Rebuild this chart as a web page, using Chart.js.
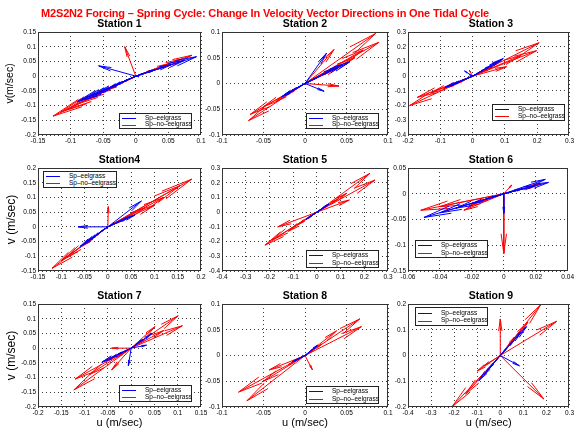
<!DOCTYPE html>
<html><head><meta charset="utf-8">
<script src="https://cdn.jsdelivr.net/npm/chart.js@4.4.1/dist/chart.umd.min.js"></script>
<style>
body{margin:0;background:#fff;}
#wrap{position:relative;width:576px;height:434px;overflow:hidden;background:#fff;font-family:"Liberation Sans",Arial,Helvetica,sans-serif;}
#wrap canvas{position:absolute;left:0;top:0;}
.txt{position:absolute;white-space:nowrap;line-height:1;z-index:5;}
.leg{position:absolute;box-sizing:border-box;border:1px solid #222;background:#fff;z-index:6;}
.leg .sw{position:absolute;height:0;border-top:1px solid;}
.leg .lt{position:absolute;font-size:6.5px;line-height:1;white-space:nowrap;color:#000;}
</style>
</head><body>
<div id="wrap"></div>
<script>
// ---------------- DATA ----------------
const stationNames = ["Station 1","Station 2","Station 3","Station4","Station 5","Station 6","Station 7","Station 8","Station 9"];
const seriesNames = ["Sp\u2013eelgrass","Sp\u2013no\u2013eelgrass"];
const mainTitle = "M2S2N2 Forcing \u2013 Spring Cycle: Change In Velocity Vector Directions in One Tidal Cycle";

// axis ranges [min, max, step]
const st1X = [-0.15, 0.1, 0.05],  st1Y = [-0.2, 0.15, 0.05];
const st2X = [-0.1, 0.1, 0.05],   st2Y = [-0.1, 0.1, 0.05];
const st3X = [-0.2, 0.3, 0.1],    st3Y = [-0.4, 0.3, 0.1];
const st4X = [-0.15, 0.2, 0.05],  st4Y = [-0.15, 0.2, 0.05];
const st5X = [-0.4, 0.3, 0.1],    st5Y = [-0.4, 0.3, 0.1];
const st6X = [-0.06, 0.04, 0.02], st6Y = [-0.15, 0.05, 0.05];
const st7X = [-0.2, 0.15, 0.05],  st7Y = [-0.2, 0.15, 0.05];
const st8X = [-0.1, 0.1, 0.05],   st8Y = [-0.1, 0.1, 0.05];
const st9X = [-0.4, 0.3, 0.1],    st9Y = [-0.2, 0.2, 0.1];

// Station 1
const st1BlueU = [0.093, 0.075, 0.055, 0.030, 0.012, -0.057, -0.020, -0.045, -0.070, -0.090, -0.082, -0.060, -0.035, 0.005];
const st1BlueV = [0.066, 0.054, 0.040, 0.022, 0.008, 0.035, -0.020, -0.045, -0.068, -0.087, -0.080, -0.058, -0.034, -0.002];
const st1RedU  = [0.086, 0.070, 0.050, 0.025, -0.017, -0.030, -0.060, -0.090, -0.115, -0.127, -0.105, -0.075, -0.045, 0.010];
const st1RedV  = [0.071, 0.058, 0.042, 0.020, 0.100, -0.030, -0.062, -0.095, -0.122, -0.136, -0.113, -0.080, -0.048, 0.008];
// Station 2
const st2BlueU = [0.054, 0.045, 0.035, 0.026, 0.015, 0.023, -0.010, -0.020, -0.028, -0.025, -0.015, 0.005];
const st2BlueV = [0.042, 0.036, 0.030, 0.059, 0.012, -0.015, -0.009, -0.018, -0.026, -0.022, -0.013, 0.004];
const st2RedU  = [0.085, 0.089, 0.070, 0.035, 0.041, 0.060, 0.040, -0.068, -0.066, -0.050, -0.035, -0.020, 0.010];
const st2RedV  = [0.097, 0.080, 0.065, 0.066, -0.005, 0.050, 0.030, -0.072, -0.060, -0.045, -0.035, -0.020, 0.008];
// Station 3
const st3BlueU = [0.095, 0.080, 0.060, 0.040, -0.025, -0.010, -0.030, -0.060, -0.085, -0.070, -0.040, 0.010];
const st3BlueV = [0.120, 0.100, 0.075, 0.050, 0.035, 0.010, -0.028, -0.055, -0.076, -0.065, -0.038, 0.012];
const st3RedU  = [0.206, 0.198, 0.105, 0.150, 0.090, 0.060, -0.010, -0.195, -0.171, -0.130, -0.090, -0.050, 0.020];
const st3RedV  = [0.227, 0.173, 0.064, 0.140, 0.110, 0.060, 0.040, -0.200, -0.144, -0.115, -0.085, -0.050, 0.020];
// Station 4
const st4BlueU = [0.072, 0.058, 0.045, 0.030, 0.015, -0.064, -0.015, -0.030, -0.048, -0.060, -0.040, 0.005];
const st4BlueV = [0.088, 0.040, 0.032, 0.022, 0.012, 0.000, -0.016, -0.033, -0.053, -0.067, -0.045, 0.004];
const st4RedU  = [0.180, 0.155, 0.101, 0.120, 0.080, 0.040, 0.001, -0.030, -0.060, -0.090, -0.120, -0.100, -0.050];
const st4RedV  = [0.162, 0.140, 0.074, 0.100, 0.065, 0.030, 0.069, -0.035, -0.070, -0.105, -0.141, -0.115, -0.058];
// Station 5
const st5BlueU = [0.050, 0.040, 0.030, 0.015, -0.015, -0.030, -0.045, -0.035, 0.005];
const st5BlueV = [0.055, 0.045, 0.032, 0.016, -0.016, -0.032, -0.048, -0.038, 0.005];
const st5RedU  = [0.224, 0.245, 0.137, 0.126, 0.090, 0.050, -0.219, -0.190, -0.165, -0.120, -0.080, -0.040, 0.020];
const st5RedV  = [0.264, 0.218, 0.082, 0.128, 0.090, 0.050, -0.224, -0.190, -0.100, -0.130, -0.085, -0.045, 0.020];
// Station 6
const st6BlueU = [0.026, 0.028, 0.020, 0.012, 0.000, -0.050, -0.040, -0.030, -0.020, -0.010, 0.005];
const st6BlueV = [0.028, 0.022, 0.016, 0.010, -0.038, -0.046, -0.037, -0.028, -0.019, -0.009, 0.004];
const st6RedU  = [0.023, 0.018, 0.010, 0.005, 0.000, -0.052, -0.040, -0.025, -0.022, -0.015, -0.008];
const st6RedV  = [0.019, 0.015, 0.009, 0.017, -0.116, -0.032, -0.025, -0.032, -0.024, -0.016, -0.008];
// Station 7
const st7BlueU = [0.045, 0.033, 0.025, 0.015, -0.006, -0.063, -0.045, -0.030, -0.015, 0.005];
const st7BlueV = [0.050, 0.010, 0.030, 0.018, -0.060, -0.048, -0.035, -0.022, -0.012, 0.004];
const st7RedU  = [0.101, 0.110, 0.051, 0.070, 0.030, -0.042, -0.042, -0.120, -0.123, -0.090, -0.060, -0.030, 0.010];
const st7RedV  = [0.110, 0.076, 0.073, 0.060, 0.030, 0.000, -0.074, -0.105, -0.142, -0.090, -0.045, -0.030, 0.010];
// Station 8
const st8BlueU = [0.015, 0.010, 0.005, -0.005, -0.010, -0.015];
const st8BlueV = [0.020, 0.013, 0.006, -0.004, -0.008, -0.012];
const st8RedU  = [0.066, 0.068, 0.038, 0.020, 0.009, -0.043, -0.080, -0.070, -0.050, -0.020, 0.010];
const st8RedV  = [0.071, 0.056, 0.048, 0.022, -0.028, -0.028, -0.071, -0.088, -0.050, -0.018, 0.010];
// Station 9
const st9BlueU = [0.114, 0.090, 0.060, 0.030, 0.083, -0.093, -0.070, -0.045, -0.020, 0.005];
const st9BlueV = [0.112, 0.090, 0.060, 0.030, -0.040, -0.098, -0.075, -0.048, -0.020, 0.004];
const st9RedU  = [0.175, 0.245, 0.000, 0.189, 0.120, 0.060, -0.209, -0.100, -0.071, -0.150, -0.050, 0.020];
const st9RedV  = [0.197, 0.133, 0.142, -0.169, 0.130, 0.070, -0.199, -0.060, -0.040, -0.150, -0.050, 0.020];

// ---------------- LAYOUT (positions only) ----------------
const W = 576, H = 434;
const cols = [[38, 201], [222, 388], [408, 574]];
const rows = [[32, 135], [168, 271], [304, 407]];
// legend boxes [left, top, width, height]
const legendBoxes = [
  [119, 113, 73, 16], [306, 113, 73, 16], [492, 104, 73, 17],
  [43, 171, 74, 17],  [306, 250, 73, 18], [415, 240, 73, 18],
  [119, 385, 73, 17], [306, 386, 73, 18], [415, 307, 73, 19]
];

const stations = [
  [st1X, st1Y, st1BlueU, st1BlueV, st1RedU, st1RedV],
  [st2X, st2Y, st2BlueU, st2BlueV, st2RedU, st2RedV],
  [st3X, st3Y, st3BlueU, st3BlueV, st3RedU, st3RedV],
  [st4X, st4Y, st4BlueU, st4BlueV, st4RedU, st4RedV],
  [st5X, st5Y, st5BlueU, st5BlueV, st5RedU, st5RedV],
  [st6X, st6Y, st6BlueU, st6BlueV, st6RedU, st6RedV],
  [st7X, st7Y, st7BlueU, st7BlueV, st7RedU, st7RedV],
  [st8X, st8Y, st8BlueU, st8BlueV, st8RedU, st8RedV],
  [st9X, st9Y, st9BlueU, st9BlueV, st9RedU, st9RedV]
];
const yTitles = ["v(m/sec)", null, null, "v (m/sec)", null, null, "v (m/sec)", null, null];
const yTitleSize = [10.5, 0, 0, 12, 0, 0, 12, 0, 0];
const BLUE = "rgb(0,0,255)", RED = "rgb(255,0,0)";

function shafts(us, vs) {
  const pts = [];
  us.forEach((u, i) => { pts.push({x: 0, y: 0}, {x: u, y: vs[i]}, {x: null, y: null}); });
  return pts;
}

const arrowHeads = {
  id: 'arrowHeads',
  afterDatasetDraw(chart, args) {
    const ds = chart.data.datasets[args.index];
    if (!ds.vecU) return;
    const xs = chart.scales.x, ys = chart.scales.y, ctx = chart.ctx, a = chart.chartArea;
    ctx.save();
    ctx.beginPath(); ctx.rect(a.left, a.top, a.right - a.left, a.bottom - a.top); ctx.clip();
    ctx.strokeStyle = ds.borderColor; ctx.lineWidth = 1;
    ctx.beginPath();
    const x0 = xs.getPixelForValue(0), y0 = ys.getPixelForValue(0);
    ds.vecU.forEach((u, i) => {
      const x1 = xs.getPixelForValue(u), y1 = ys.getPixelForValue(ds.vecV[i]);
      const dx = x1 - x0, dy = y1 - y0, L = Math.hypot(dx, dy);
      if (L < 1) return;
      const hl = 0.33 * L, hw = 0.045 * L, ux = dx / L, uy = dy / L;
      const bx = x1 - ux * hl, by = y1 - uy * hl;
      ctx.moveTo(bx - uy * hw, by + ux * hw);
      ctx.lineTo(x1, y1);
      ctx.lineTo(bx + uy * hw, by - ux * hw);
    });
    ctx.stroke();
    ctx.restore();
  }
};
const frame = {
  id: 'frame',
  afterDraw(chart) {
    const a = chart.chartArea, c = chart.ctx;
    c.save(); c.strokeStyle = '#333'; c.lineWidth = 1;
    c.strokeRect(Math.round(a.left) + 0.5, Math.round(a.top) + 0.5, Math.round(a.right - a.left) - 1, Math.round(a.bottom - a.top) - 1);
    c.restore();
  }
};

const wrap = document.getElementById('wrap');
const fmt = v => String(+(+v).toFixed(4));

stations.forEach((st, k) => {
  const [xr, yr, bu, bv, ru, rv] = st;
  const r = Math.floor(k / 3), c = k % 3;
  const [pl, pr] = cols[c], [pt, pb] = rows[r];
  const yW = (c === 0) ? pl : 34;
  const xH = (r === 2) ? (H - pb) : 14;
  const cv = document.createElement('canvas');
  cv.width = W; cv.height = H; cv.style.width = W + 'px'; cv.style.height = H + 'px';
  wrap.appendChild(cv);
  new Chart(cv, {
    type: 'scatter',
    data: { datasets: [
      { label: seriesNames[0], data: shafts(bu, bv), vecU: bu, vecV: bv, showLine: true, spanGaps: false,
        borderColor: BLUE, backgroundColor: BLUE, borderWidth: 1, pointRadius: 0, pointHoverRadius: 0 },
      { label: seriesNames[1], data: shafts(ru, rv), vecU: ru, vecV: rv, showLine: true, spanGaps: false,
        borderColor: RED, backgroundColor: RED, borderWidth: 1, pointRadius: 0, pointHoverRadius: 0 }
    ]},
    options: {
      responsive: false, animation: false, events: [],
      layout: { padding: { left: pl - yW, top: pt, right: W - pr, bottom: H - pb - xH } },
      plugins: { legend: { display: false }, tooltip: { enabled: false }, title: { display: false } },
      scales: {
        x: {
          type: 'linear', min: xr[0], max: xr[1],
          ticks: { stepSize: xr[2], autoSkip: false, maxRotation: 0, minRotation: 0, color: '#000', padding: 2,
                   font: { size: 6.5, family: '"Liberation Sans", Arial, sans-serif' }, callback: fmt },
          grid: { color: 'rgba(0,0,0,0.75)', lineWidth: 1, drawTicks: false, borderDash: [1, 3] },
          border: { display: false, dash: [1, 3] },
          title: { display: r === 2, text: 'u (m/sec)', color: '#000', padding: { top: 0, bottom: 4 },
                   font: { size: 11, family: '"Liberation Sans", Arial, sans-serif' } },
          afterFit(s) { s.height = xH; }
        },
        y: {
          type: 'linear', min: yr[0], max: yr[1],
          ticks: { stepSize: yr[2], autoSkip: false, color: '#000', padding: 2,
                   font: { size: 6.5, family: '"Liberation Sans", Arial, sans-serif' }, callback: fmt },
          grid: { color: 'rgba(0,0,0,0.75)', lineWidth: 1, drawTicks: false, borderDash: [1, 3] },
          border: { display: false, dash: [1, 3] },
          title: { display: !!yTitles[k], text: yTitles[k] || '', color: '#000', padding: { top: 4, bottom: 0 },
                   font: { size: yTitleSize[k] || 10, family: '"Liberation Sans", Arial, sans-serif' } },
          afterFit(s) { s.width = yW; }
        }
      }
    },
    plugins: [arrowHeads, frame]
  });

  // station title
  const t = document.createElement('div');
  t.className = 'txt';
  t.textContent = stationNames[k];
  t.style.cssText += 'font-size:10.5px;font-weight:bold;color:#000;left:' + ((pl + pr) / 2) + 'px;top:' + (pt - 8.5 - 5.2) + 'px;transform:translateX(-50%);';
  wrap.appendChild(t);

  // legend
  const [lx, ly, lw, lh] = legendBoxes[k];
  const lg = document.createElement('div');
  lg.className = 'leg';
  lg.style.left = lx + 'px'; lg.style.top = ly + 'px'; lg.style.width = lw + 'px'; lg.style.height = lh + 'px';
  [BLUE, RED].forEach((col, j) => {
    const cy = (j === 0 ? 0.3 : 0.72) * lh - 1;
    const sw = document.createElement('div');
    sw.className = 'sw'; sw.style.borderTopColor = col;
    sw.style.left = '2px'; sw.style.width = '14px'; sw.style.top = Math.round(cy) + 'px';
    const lt = document.createElement('div');
    lt.className = 'lt'; lt.textContent = seriesNames[j];
    lt.style.left = '25px'; lt.style.top = (cy - 3.2) + 'px';
    lg.appendChild(sw); lg.appendChild(lt);
  });
  wrap.appendChild(lg);
});

// main title
const mt = document.createElement('div');
mt.className = 'txt';
mt.textContent = mainTitle;
mt.style.cssText += 'font-size:11px;font-weight:bold;color:rgb(255,0,0);left:41px;top:7.5px;';
wrap.appendChild(mt);
const target = 448;
const w0 = mt.getBoundingClientRect().width;
mt.style.letterSpacing = ((target - w0) / mainTitle.length).toFixed(3) + 'px';
</script>
</body></html>
